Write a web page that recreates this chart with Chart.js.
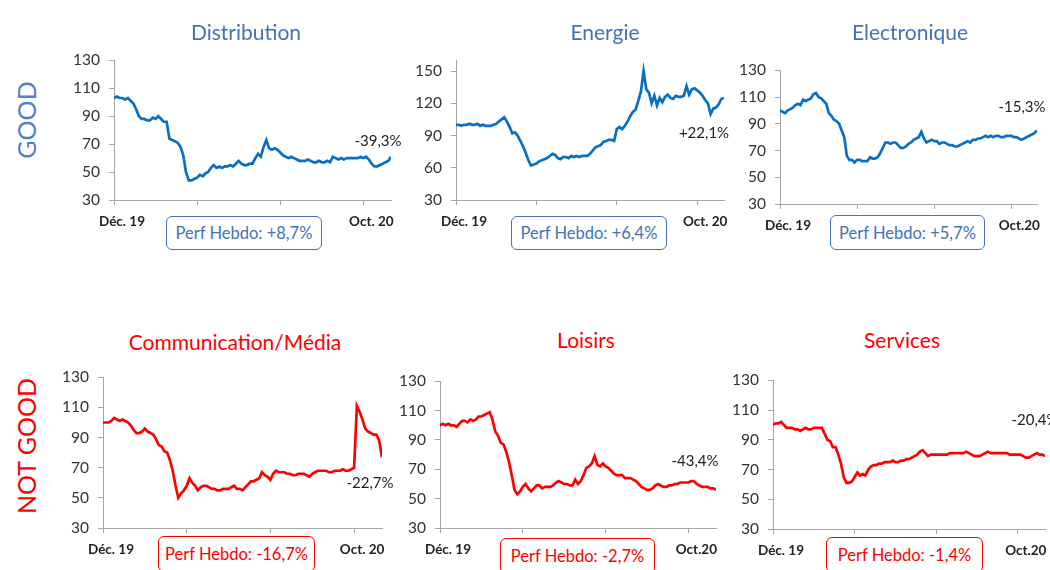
<!DOCTYPE html>
<html>
<head>
<meta charset="utf-8">
<script src="https://cdn.jsdelivr.net/npm/chart.js@4/dist/chart.umd.min.js"></script>
<style>
    body { margin: 0; background: #fff; overflow: hidden; }
    #page { position: relative; width: 1050px; height: 570px; overflow: hidden; font-family: Lato, "Open Sans", sans-serif; }
    .panel { position: absolute; }
    .txt { position: absolute; transform: translate(-50%, -50%); white-space: nowrap; }
    .title { font-size: 21px; }
    .side { font-size: 25px; transform: translate(-50%, -50%) rotate(-90deg); }
    .endlbl { font-size: 15px; color: #222; }
    .perf { position: absolute; box-sizing: border-box; border: 1px solid; border-radius: 6px;
            font-size: 16.5px; display: flex; align-items: center; justify-content: center; background: #fff; }
</style>
</head>
<body>
<div id="page"></div>
<script>
// x axis: one point per step, ticks every 30 steps
const xTickIdx = [0, 30, 60, 90];
const xTickLabelsA = ["Déc. 19", "", "", "Oct. 20"];
const xTickLabelsB = ["Déc. 19", "", "", "Oct.20"];
const yTicksStd = [30, 50, 70, 90, 110, 130];
const yTicksEnergie = [30, 60, 90, 120, 150];

const titles = ["Distribution", "Energie", "Electronique", "Communication/Média", "Loisirs", "Services"];
const endLabels = ["-39,3%", "+22,1%", "-15,3%", "-22,7%", "-43,4%", "-20,4%"];
const perfHebdo = ["Perf Hebdo: +8,7%", "Perf Hebdo: +6,4%", "Perf Hebdo: +5,7%",
                   "Perf Hebdo: -16,7%", "Perf Hebdo: -2,7%", "Perf Hebdo: -1,4%"];
const groupLabels = ["GOOD", "NOT GOOD"];

const distribution = [103,104,103,103,102,103,101,99,95,90,88,88,87,87,89,88,90,88,86,86,
    74,73,72,71,68,62,50,44,44,45,46,48,47,49,50,53,55,53,54,53,
    54,54,55,54,56,58,56,55,55,56,56,60,63,61,68,73,67,66,67,66,
    64,62,61,60,61,60,59,58,58,58,59,58,57,57,58,57,57,58,57,61,
    60,59,60,59,60,60,60,60,60,61,60,61,59,56,54,54,55,56,57,58,61];
const energie = [100,100,99,100,100,101,100,100,101,99,100,99,99,99,100,101,103,105,107,103,
    98,92,93,90,85,80,74,67,62,63,64,66,67,68,69,71,73,72,69,68,
    70,70,69,71,70,71,70,71,71,71,73,76,79,80,81,84,85,86,86,85,
    96,98,96,99,103,108,112,114,122,131,150,133,130,120,127,118,125,121,126,128,
    125,124,127,126,126,127,136,128,133,134,132,130,127,123,120,110,115,116,119,124,125];
const electronique = [100,99,98,100,101,102,104,105,104,108,107,108,109,112,113,110,109,107,105,98,
    96,93,92,90,85,80,66,63,63,61,63,63,62,62,62,65,64,64,65,68,
    72,76,76,75,76,76,74,72,72,73,75,76,78,79,80,84,79,76,77,78,
    77,77,75,76,76,75,74,74,73,73,74,75,76,77,76,78,78,79,79,80,
    81,80,81,80,81,81,80,80,81,81,81,80,80,79,78,79,80,81,82,83,85];
const communication = [100,100,100,101,103,102,101,102,101,100,98,95,93,93,94,96,94,93,92,89,
    85,84,81,80,75,68,58,50,53,55,58,63,60,58,55,57,58,58,57,56,
    56,55,55,56,56,56,57,58,56,56,55,57,59,61,61,62,63,67,65,64,
    62,66,68,67,67,67,66,66,65,65,66,66,66,65,64,66,67,68,68,68,
    68,67,67,68,68,68,69,68,68,69,70,111,107,102,96,94,93,92,92,88,77];
const loisirs = [100,101,100,101,100,100,99,101,103,103,102,104,103,104,106,106,107,108,109,104,
    96,93,88,87,82,75,66,56,53,55,58,60,57,55,57,59,59,57,58,58,
    58,59,61,62,61,60,60,59,59,63,60,62,66,71,72,74,79,73,72,74,
    72,71,69,67,66,66,66,64,64,64,63,62,60,58,57,56,56,57,59,60,
    59,58,58,59,59,60,60,61,61,61,61,62,62,60,59,58,58,58,57,57,56];
const services = [100,101,101,102,100,98,98,98,97,97,96,97,98,97,97,98,98,98,98,94,
    90,89,85,85,80,74,65,61,61,62,65,68,66,67,66,70,72,73,73,74,
    74,75,75,75,76,75,75,76,76,77,77,78,79,80,82,83,81,79,80,80,
    80,80,80,80,80,81,81,81,81,81,81,82,81,80,79,79,79,80,81,82,
    81,81,81,81,81,81,81,80,80,80,80,80,79,78,78,79,80,81,80,80,79];

const BLUE_LINE = "#0B6FC1";
const BLUE_TEXT = "#4472B4";
const RED = "#FF0000";
const AXIS_GREY = "#A6A6A6";

// layout: canvas box + text positions (centres) per panel
const panels = [
    { data: distribution,  good: true,  ticks: yTicksStd,     max: 130, xl: xTickLabelsA,
      box: [64, 42, 335, 188],  title: [246, 31],  end: [378, 140], perf: [166, 216, 156, 34] },
    { data: energie,       good: true,  ticks: yTicksEnergie, max: 160, xl: xTickLabelsA,
      box: [406, 42, 326, 188], title: [605, 31],  end: [704, 132], perf: [511, 216, 156, 34] },
    { data: electronique,  good: true,  ticks: yTicksStd,     max: 130, xl: xTickLabelsB,
      box: [730, 52, 315, 182], title: [910, 31],  end: [1022, 106], perf: [830, 215, 155, 35] },
    { data: communication, good: false, ticks: yTicksStd,     max: 130, xl: xTickLabelsA,
      box: [53, 359, 337, 199], title: [235, 341], end: [370, 482], perf: [158, 536, 157, 36] },
    { data: loisirs,       good: false, ticks: yTicksStd,     max: 130, xl: xTickLabelsB,
      box: [390, 363, 334, 195], title: [586, 339], end: [695, 460], perf: [500, 538, 155, 36] },
    { data: services,      good: false, ticks: yTicksStd,     max: 130, xl: xTickLabelsB,
      box: [723, 362, 330, 197], title: [902, 339], end: [1035, 419], perf: [826, 537, 157, 36] }
];

const page = document.getElementById("page");

function addText(cls, text, x, y, color) {
    const el = document.createElement("div");
    el.className = "txt " + cls;
    el.textContent = text;
    el.style.left = x + "px";
    el.style.top = y + "px";
    if (color) el.style.color = color;
    page.appendChild(el);
    return el;
}

function drawPanel(p, i) {
    const [left, top, w, h] = p.box;
    const wrap = document.createElement("div");
    wrap.className = "panel";
    Object.assign(wrap.style, { left: left + "px", top: top + "px", width: w + "px", height: h + "px" });
    const canvas = document.createElement("canvas");
    wrap.appendChild(canvas);
    page.appendChild(wrap);

    const lineColor = p.good ? BLUE_LINE : RED;
    const textColor = p.good ? BLUE_TEXT : RED;

    new Chart(canvas.getContext("2d"), {
        type: "line",
        data: {
            datasets: [{
                data: p.data.map((v, k) => ({ x: k, y: v })),
                borderColor: lineColor,
                borderWidth: 2.7,
                pointRadius: 0,
                tension: 0
            }]
        },
        options: {
            responsive: true,
            maintainAspectRatio: false,
            animation: false,
            layout: { padding: { top: 10, right: 8, left: 0, bottom: 0 } },
            plugins: { legend: { display: false }, tooltip: { enabled: false } },
            scales: {
                x: {
                    type: "linear",
                    min: 0,
                    max: p.data.length - 1,
                    afterBuildTicks: axis => { axis.ticks = xTickIdx.map(v => ({ value: v })); },
                    afterFit: s => { s.height = 30; },
                    border: { color: AXIS_GREY, width: 1 },
                    grid: { drawOnChartArea: false, drawTicks: true, tickLength: 5, color: AXIS_GREY },
                    ticks: {
                        autoSkip: false,
                        maxRotation: 0,
                        padding: 9,
                        labelOffset: 8,
                        color: "#222",
                        font: { family: "Lato", size: 13.5, weight: "bold" },
                        callback: (v, idx) => p.xl[idx]
                    }
                },
                y: {
                    min: 30,
                    max: p.max,
                    afterBuildTicks: axis => { axis.ticks = p.ticks.map(v => ({ value: v })); },
                    afterFit: s => { s.width = 50; },
                    border: { color: AXIS_GREY, width: 1 },
                    grid: { drawOnChartArea: false, drawTicks: true, tickLength: 5, color: AXIS_GREY },
                    ticks: {
                        padding: 9,
                        color: "#333",
                        font: { family: "Lato", size: 15.5 }
                    }
                }
            }
        }
    });

    addText("title", titles[i], p.title[0], p.title[1], textColor);
    addText("endlbl", endLabels[i], p.end[0], p.end[1]);

    const perf = document.createElement("div");
    perf.className = "perf";
    perf.textContent = perfHebdo[i];
    const [px, py, pw, ph] = p.perf;
    Object.assign(perf.style, {
        left: px + "px", top: py + "px", width: pw + "px", height: ph + "px",
        color: textColor, borderColor: p.good ? BLUE_TEXT : RED
    });
    page.appendChild(perf);
}

panels.forEach(drawPanel);

addText("side", groupLabels[0], 26, 120, "#4F81C8");
addText("side", groupLabels[1], 26, 446, RED);
</script>
</body>
</html>
